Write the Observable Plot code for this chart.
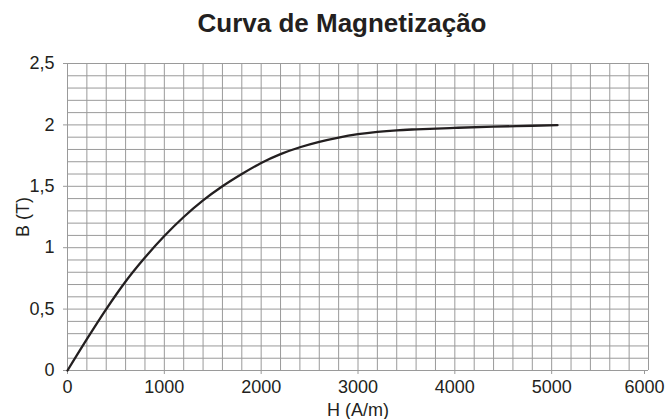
<!DOCTYPE html>
<html>
<head>
<meta charset="utf-8">
<script src="https://cdn.jsdelivr.net/npm/d3@7"></script>
<script src="https://cdn.jsdelivr.net/npm/@observablehq/plot@0.6"></script>
<style>
  html, body { margin: 0; padding: 0; background: #fff; }
  #title { height: 44px; width: 668px; box-sizing: border-box; padding-top: 10px; padding-left: 16px;
    text-align: center; font: bold 26px/26px "Liberation Sans", Arial, sans-serif; color: #231f20; }
  svg { display: block; }
</style>
</head>
<body>
<div id="title">Curva de Magnetização</div>
<div id="chart"></div>
<script>
const H = [0, 200, 400, 600, 800, 1000, 1200, 1400, 1600, 1800, 2000, 2200, 2400, 2600, 2800, 3000, 3200, 3400, 3600, 4000, 4400, 4800, 5060];
const B = [0, 0.255, 0.5, 0.725, 0.92, 1.095, 1.25, 1.385, 1.5, 1.6, 1.69, 1.762, 1.818, 1.862, 1.897, 1.924, 1.943, 1.956, 1.964, 1.976, 1.986, 1.993, 1.998];
const xTicks = [0, 1000, 2000, 3000, 4000, 5000];
const xTickLast = [6000];
const yTicks = [0, 0.5, 1, 1.5, 2, 2.5];
const xGrid = d3.range(0, 31).map(i => i * 200);
const yGrid = d3.range(0, 26).map(i => i / 10);

const data = H.map((h, i) => ({H: h, B: B[i]}));
const fmt = d => String(d).replace(".", ",");

const chart = Plot.plot({
  width: 668,
  height: 375,
  marginTop: 19,
  marginLeft: 67,
  marginRight: 20,
  marginBottom: 49,
  style: {fontFamily: '"Liberation Sans", Arial, sans-serif', fontSize: "18px", color: "#231f20", background: "#fff"},
  x: {domain: [0, 6000]},
  y: {domain: [0, 2.5]},
  marks: [
    Plot.gridX(xGrid, {stroke: "#9a9a9a", strokeOpacity: 1, strokeWidth: 1}),
    Plot.gridY(yGrid, {stroke: "#9a9a9a", strokeOpacity: 1, strokeWidth: 1}),
    Plot.axisX(xTicks, {tickSize: 4, tickPadding: 6, stroke: "#9a9a9a", tickFormat: fmt,
      label: "H (A/m)", labelAnchor: "center", labelArrow: "none", labelOffset: 45}),
    Plot.axisX(xTickLast, {tickSize: 4, tickPadding: 6, stroke: "#9a9a9a", tickFormat: fmt, dx: -4, label: null}),
    Plot.axisY(yTicks, {tickSize: 4, tickPadding: 9, stroke: "#9a9a9a", tickFormat: fmt,
      label: "B (T)", labelAnchor: "center", labelArrow: "none", labelOffset: 51}),
    Plot.line(data, {x: "H", y: "B", stroke: "#231f20", strokeWidth: 2.3, curve: "monotone-x"})
  ]
});
document.getElementById("chart").appendChild(chart);
</script>
</body>
</html>
